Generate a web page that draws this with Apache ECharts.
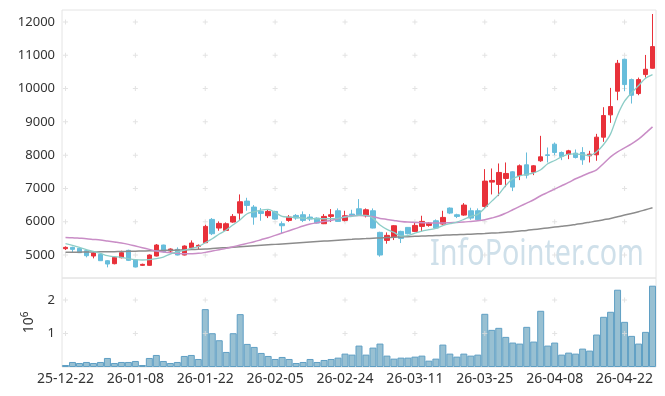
<!DOCTYPE html>
<html>
<head>
<meta charset="utf-8">
<script src="https://cdn.jsdelivr.net/npm/echarts@6/dist/echarts.min.js"></script>
<style>
html,body{margin:0;padding:0;background:#fff;}
#c{width:665px;height:396px;}
</style>
</head>
<body>
<div id="c"></div>
<script>
const dates = ['25-12-22','25-12-23','25-12-24','25-12-26','25-12-29','25-12-30','26-01-02','26-01-05','26-01-06','26-01-07',
'26-01-08','26-01-09','26-01-12','26-01-13','26-01-14','26-01-15','26-01-16','26-01-19','26-01-20','26-01-21',
'26-01-22','26-01-23','26-01-26','26-01-27','26-01-28','26-01-29','26-01-30','26-02-02','26-02-03','26-02-04',
'26-02-05','26-02-06','26-02-09','26-02-10','26-02-11','26-02-12','26-02-13','26-02-19','26-02-20','26-02-23',
'26-02-24','26-02-25','26-02-26','26-02-27','26-03-03','26-03-04','26-03-05','26-03-06','26-03-09','26-03-10',
'26-03-11','26-03-12','26-03-13','26-03-16','26-03-17','26-03-18','26-03-19','26-03-20','26-03-23','26-03-24',
'26-03-25','26-03-26','26-03-27','26-03-30','26-03-31','26-04-01','26-04-02','26-04-03','26-04-06','26-04-07',
'26-04-08','26-04-09','26-04-10','26-04-13','26-04-14','26-04-15','26-04-16','26-04-17','26-04-20','26-04-21',
'26-04-22','26-04-23','26-04-24','26-04-27','26-04-28'];

const opens = [5190,5230,5200,5130,4970,5020,4830,4740,4920,5140,
4850,4690,4690,4970,5300,5120,5170,5000,5220,5260,
5370,6070,5810,5740,5990,6260,6620,6440,6310,6180,
6310,5940,6040,6190,6210,6140,6110,5940,6160,6330,
6040,6230,6390,6180,6330,5680,5440,5540,5710,5830,
5710,5860,5890,6030,5930,6410,6210,6200,6330,6330,
6460,7190,7120,7300,7500,7390,7710,7490,7830,8010,
8330,8080,8030,8060,8080,7980,8010,8540,9210,9920,
10880,10270,9850,10420,10610];
const closes = [5230,5170,5070,4980,5060,4830,4730,4930,5070,4840,
4640,4720,5000,5300,5100,5180,5000,5270,5360,5290,
5860,5640,5950,5940,6160,6600,6490,6140,6250,6310,
6080,5880,6140,6110,6040,6080,5960,6160,6210,6010,
6180,6190,6210,6360,5810,5000,5590,5880,5500,5640,
5890,6010,5960,5810,6130,6260,6160,6500,6110,6060,
7220,7240,7480,7450,7040,7680,7400,7680,7950,7990,
8080,7960,8130,7930,7860,8030,8540,9190,9460,10760,
10120,9800,10270,10580,11260];
const lows = [5150,5080,5060,4930,4900,4820,4630,4720,4900,4820,
4630,4670,4680,4960,5080,5060,4990,4990,5180,5180,
5360,5600,5730,5720,5970,6050,6330,5910,6030,6110,
6060,5660,6000,6060,5990,6020,5950,5930,5990,6000,
6010,6170,6190,6130,5800,4950,5340,5450,5360,5620,
5690,5710,5850,5800,5910,6230,6110,6180,6060,6040,
6420,6820,6770,7040,6920,7250,7300,7400,7800,7780,
8000,7850,7880,7900,7710,7780,7830,8400,8970,9650,
9920,9550,9800,10330,10600];
const highs = [5260,5250,5220,5150,5080,5050,4850,4950,5130,5160,
4870,4740,5020,5330,5310,5200,5230,5290,5440,5320,
5910,6110,6010,5980,6230,6820,6720,6500,6410,6370,
6330,6010,6200,6230,6310,6230,6130,6230,6380,6400,
6330,6360,6680,6400,6400,5700,5680,5900,5730,5840,
5980,6180,5990,6070,6330,6430,6240,6560,6420,6400,
7580,7600,7750,7780,7520,7720,8080,7700,8580,8230,
8380,8110,8160,8170,8240,8130,8640,9440,10020,10860,
10900,10300,10330,11010,12240];

const ma5 = [5340,5290,5230,5160,5110,5050,4980,4950,4930,4890,
4860,4850,4860,4890,4940,5030,5090,5140,5200,5250,
5370,5490,5630,5750,5910,6060,6240,6300,6350,6370,
6280,6160,6140,6130,6110,6100,6090,6090,6090,6100,
6140,6160,6190,6190,6100,5900,5770,5680,5570,5580,
5660,5720,5760,5800,5880,5940,5990,6070,6160,6220,
6410,6620,6820,7090,7290,7380,7420,7470,7560,7740,
7840,7950,8030,8040,8010,7990,8100,8320,8640,9200,
9620,9870,10090,10310,10420];
const ma20 = [5530,5520,5505,5490,5470,5450,5420,5390,5360,5320,
5270,5220,5170,5120,5090,5070,5050,5035,5040,5050,
5080,5120,5160,5200,5250,5300,5350,5400,5460,5520,
5590,5660,5730,5800,5870,5930,5970,6010,6040,6090,
6150,6180,6190,6180,6150,6100,6070,6040,6010,5990,
5980,5970,5960,5960,5960,5970,5980,5990,6010,6030,
6060,6110,6170,6260,6360,6460,6560,6660,6780,6880,
6980,7080,7180,7290,7380,7470,7560,7750,7950,8100,
8220,8340,8480,8660,8850];
const ma60 = [5080,5083,5086,5089,5092,5095,5098,5101,5105,5110,
5115,5120,5126,5132,5138,5144,5150,5157,5164,5172,
5180,5194,5208,5222,5236,5250,5264,5278,5292,5306,
5320,5334,5348,5362,5376,5390,5404,5418,5432,5446,
5460,5472,5484,5494,5504,5514,5524,5534,5543,5552,
5561,5570,5578,5586,5594,5602,5610,5618,5626,5636,
5646,5658,5670,5685,5700,5720,5740,5765,5790,5815,
5840,5865,5890,5920,5950,5985,6020,6060,6100,6150,
6200,6250,6300,6360,6420];

// volume, unit 10^6
const volumes = [0.06,0.15,0.12,0.15,0.12,0.15,0.27,0.12,0.15,0.15,
0.18,0.06,0.27,0.36,0.18,0.12,0.15,0.33,0.36,0.24,
1.73,1.01,0.80,0.45,1.01,1.58,0.69,0.60,0.42,0.33,
0.24,0.30,0.24,0.12,0.15,0.24,0.15,0.21,0.24,0.28,
0.40,0.37,0.64,0.37,0.58,0.70,0.34,0.25,0.28,0.28,
0.31,0.34,0.19,0.25,0.67,0.40,0.31,0.40,0.34,0.37,
1.59,1.11,1.17,0.90,0.73,0.70,1.20,0.76,1.68,0.64,
0.73,0.37,0.43,0.40,0.55,0.49,0.97,1.50,1.65,2.31,
1.35,0.93,0.70,1.05,2.43];

const priceTicks = [5000,6000,7000,8000,9000,10000,11000,12000];
const volumeTicks = [1,2];
const labelEvery = 10;

const candleData = dates.map((d,i)=>[opens[i],closes[i],lows[i],highs[i]]);
const gridCats = dates.filter((d,i)=>i%labelEvery===0);
const plusMain = [];
gridCats.forEach(c=>priceTicks.forEach(v=>plusMain.push([c,v])));
const plusVol = [];
gridCats.forEach(c=>volumeTicks.forEach(v=>plusVol.push([c,v])));

const FONT = 'Noto Sans';
const plusPath = 'path://M0,2H5V3H0Z M2,0H3V5H2Z';

const chart = echarts.init(document.getElementById('c'), null, {renderer:'canvas'});
chart.setOption({
  animation:false,
  backgroundColor:'#fff',
  textStyle:{fontFamily:FONT},
  grid:[
    {left:62, top:10, width:594, height:268, show:true, borderColor:'#e4e4e4', borderWidth:1},
    {left:62, top:278, width:594, height:89, show:true, borderColor:'#e4e4e4', borderWidth:1}
  ],
  graphic:[{
    type:'text', x:430, y:254, scaleX:0.775, z:0, silent:true,
    style:{text:'InfoPointer.com', fontFamily:FONT, fontSize:37, fill:'#cfe0ea', verticalAlign:'middle'}
  }],
  xAxis:[
    {type:'category', gridIndex:0, data:dates, boundaryGap:true,
     axisLine:{show:false}, axisTick:{show:false}, axisLabel:{show:false}, splitLine:{show:false}},
    {type:'category', gridIndex:1, data:dates, boundaryGap:true,
     axisLine:{show:false}, axisTick:{show:false}, splitLine:{show:false},
     axisLabel:{interval:labelEvery-1, color:'#333', fontSize:14, fontFamily:FONT, margin:5}}
  ],
  yAxis:[
    {type:'value', gridIndex:0, min:4310, max:12360, minInterval:1000, maxInterval:1000, scale:true,
     axisLine:{show:false}, axisTick:{show:false}, splitLine:{show:false},
     axisLabel:{showMinLabel:false, showMaxLabel:false, color:'#333', fontSize:13, fontFamily:FONT, margin:7,
                formatter:v=>String(v)}},
    {type:'value', gridIndex:1, min:0, max:2.66, minInterval:1, maxInterval:1,
     axisLine:{show:false}, axisTick:{show:false}, splitLine:{show:false},
     name:'{a|10}{b|6}', nameLocation:'middle', nameRotate:90, nameGap:24,
     nameTextStyle:{rich:{a:{fontSize:14, color:'#333', fontFamily:FONT, lineHeight:18},
                          b:{fontSize:10, color:'#333', fontFamily:FONT, verticalAlign:'top', lineHeight:18}}},
     axisLabel:{showMinLabel:false, showMaxLabel:false, color:'#333', fontSize:13, fontFamily:FONT, margin:7,
                formatter:v=>String(v)}}
  ],
  series:[
    {type:'scatter', xAxisIndex:0, yAxisIndex:0, data:plusMain, symbol:plusPath, symbolSize:5,
     itemStyle:{color:'#dcdcdc'}, silent:true, z:1},
    {type:'scatter', xAxisIndex:1, yAxisIndex:1, data:plusVol, symbol:plusPath, symbolSize:5,
     itemStyle:{color:'#dcdcdc'}, silent:true, z:5},
    {type:'candlestick', xAxisIndex:0, yAxisIndex:0, data:candleData, barWidth:5, z:3,
     itemStyle:{color:'#e8313a', color0:'#67bddb', borderColor:'#e8313a', borderColor0:'#67bddb', borderWidth:1}},
    {type:'line', xAxisIndex:0, yAxisIndex:0, data:ma60, showSymbol:false, smooth:0.3, z:4,
     lineStyle:{color:'#8c8c8c', width:1.5}},
    {type:'line', xAxisIndex:0, yAxisIndex:0, data:ma20, showSymbol:false, smooth:0.3, z:4,
     lineStyle:{color:'#c98dc6', width:1.5}},
    {type:'line', xAxisIndex:0, yAxisIndex:0, data:ma5, showSymbol:false, smooth:0.3, z:4,
     lineStyle:{color:'#8dcdc7', width:1.3}},
    {type:'bar', xAxisIndex:1, yAxisIndex:1, data:volumes, barCategoryGap:'0%', z:3,
     itemStyle:{color:'#98c0d2', borderColor:'#5f9fc4', borderWidth:1}}
  ]
});
</script>
</body>
</html>
